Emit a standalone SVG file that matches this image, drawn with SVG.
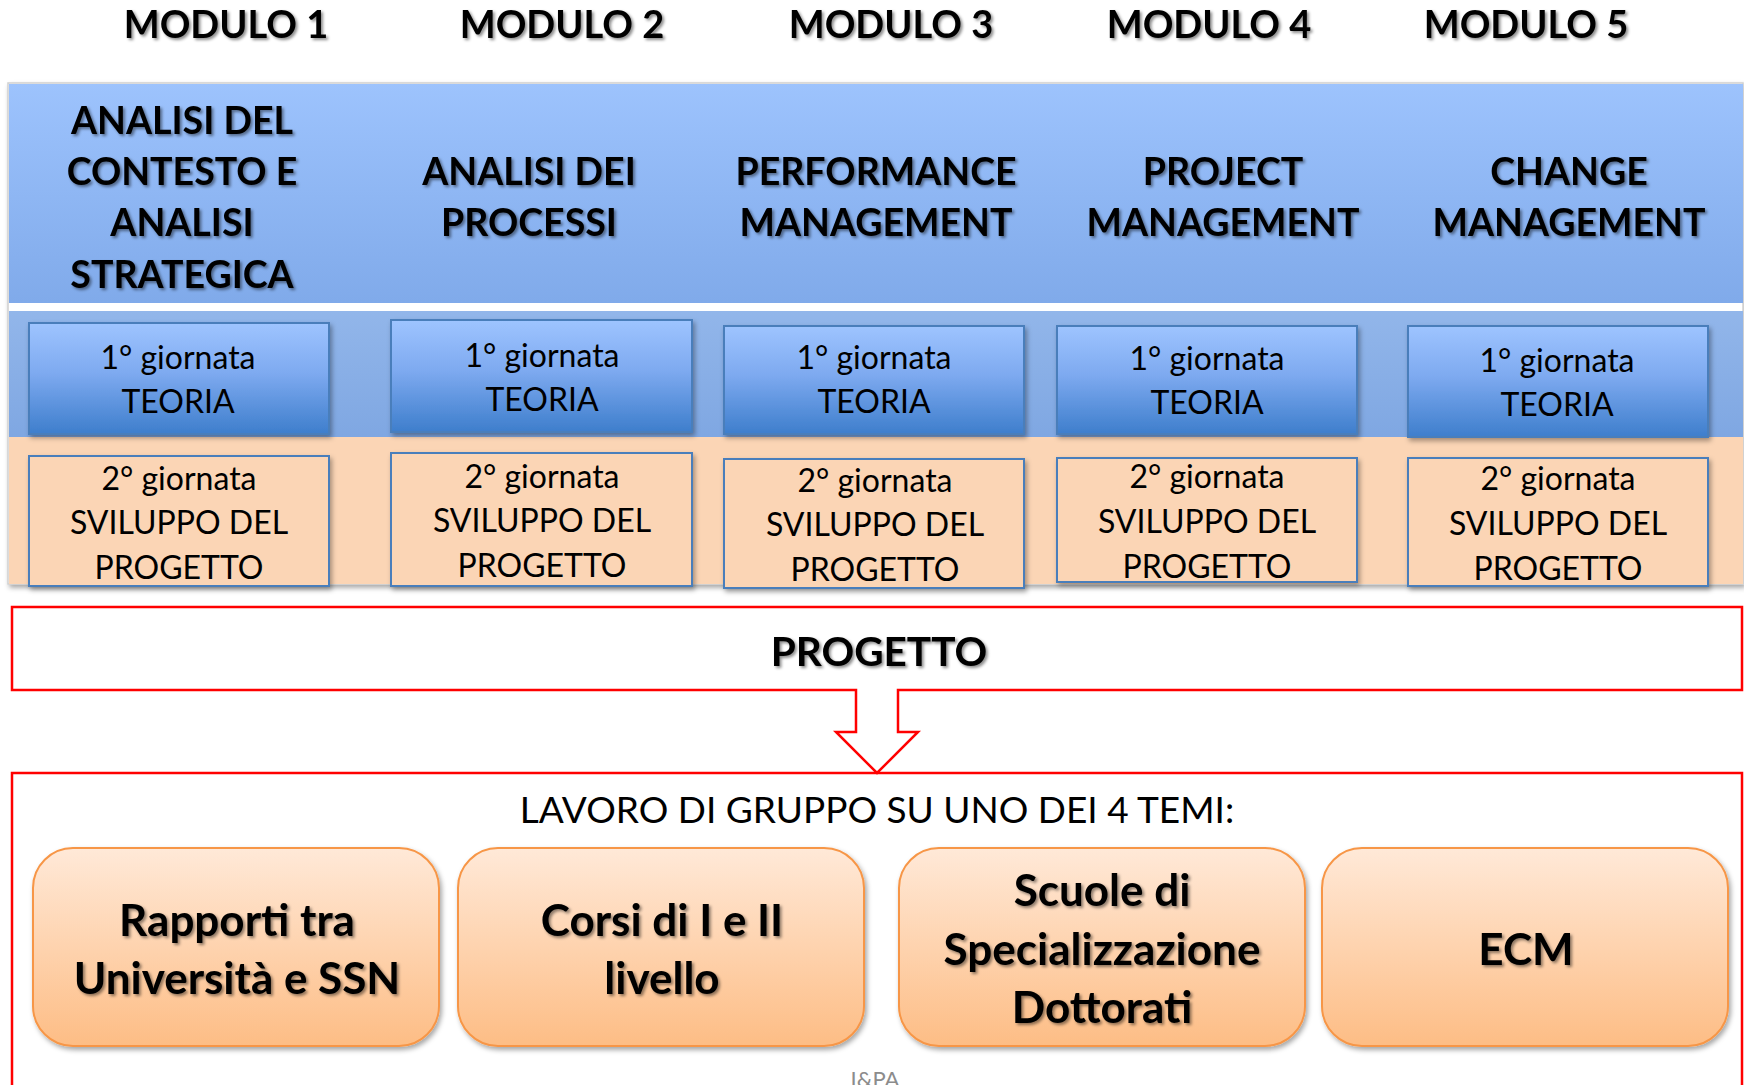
<svg xmlns="http://www.w3.org/2000/svg" width="1744" height="1085" viewBox="0 0 1744 1085">
<defs>
<linearGradient id="gHead" x1="0" y1="0" x2="0" y2="1"><stop offset="0" stop-color="#9DC3FD"/><stop offset="1" stop-color="#80AAEA"/></linearGradient>
<linearGradient id="gRow" x1="0" y1="0" x2="0" y2="1"><stop offset="0" stop-color="#92B6EA"/><stop offset="1" stop-color="#7FA7E2"/></linearGradient>
<linearGradient id="gTeo" x1="0" y1="0" x2="0" y2="1"><stop offset="0" stop-color="#9EC4FF"/><stop offset="0.45" stop-color="#7EAAF0"/><stop offset="1" stop-color="#3E7ECC"/></linearGradient>
<linearGradient id="gOr" x1="0" y1="0" x2="0" y2="1"><stop offset="0" stop-color="#FFE9D8"/><stop offset="1" stop-color="#FDBD85"/></linearGradient>
<filter id="ts" x="-10%" y="-30%" width="120%" height="160%"><feDropShadow dx="2" dy="2" stdDeviation="1.5" flood-color="#000" flood-opacity="0.45"/></filter>
<filter id="bs" x="-5%" y="-10%" width="110%" height="125%"><feDropShadow dx="2" dy="3" stdDeviation="2.5" flood-color="#000" flood-opacity="0.35"/></filter>
</defs>
<style>
.tb{font-family:Lato,"Open Sans","Liberation Sans",sans-serif;font-weight:bold;fill:#000;text-anchor:middle}
.tr{font-family:Lato,"Open Sans","Liberation Sans",sans-serif;font-weight:normal;fill:#000;text-anchor:middle}
.mod{font-size:38px}
.hd{font-size:37.5px}
.day{font-size:32px}
.teo{fill:url(#gTeo);stroke:#4A7EBB;stroke-width:2}
.svi{fill:#FBD5B5;stroke:#4A7EBB;stroke-width:2}
.or{fill:url(#gOr);stroke:#F79646;stroke-width:2}
.red{fill:#fff;stroke:#FF0000;stroke-width:2.5}
.big{font-size:44px}
</style>
<rect width="1744" height="1085" fill="#fff"/>

<g id="titles" class="tb mod" filter="url(#ts)">
<text x="226" y="38">MODULO 1</text>
<text x="562" y="38">MODULO 2</text>
<text x="891" y="38">MODULO 3</text>
<text x="1209" y="38">MODULO 4</text>
<text x="1526" y="38">MODULO 5</text>
</g>

<g id="band" filter="url(#bs)">
<rect x="8" y="83" width="1735" height="501" fill="#fff" stroke="#D0D0D0" stroke-width="1.5"/>
<rect x="9" y="84" width="1734" height="219" fill="url(#gHead)"/>
<rect x="9" y="311" width="1734" height="126" fill="url(#gRow)"/>
<rect x="9" y="437" width="1734" height="147" fill="#FBD5B5"/>
</g>

<g id="headers" class="tb hd" filter="url(#ts)">
<text x="182" y="134">ANALISI DEL</text>
<text x="182" y="185">CONTESTO E</text>
<text x="182" y="236">ANALISI</text>
<text x="182" y="288">STRATEGICA</text>
<text x="529" y="185">ANALISI DEI</text>
<text x="529" y="236">PROCESSI</text>
<text x="876" y="185">PERFORMANCE</text>
<text x="876" y="236">MANAGEMENT</text>
<text x="1223" y="185">PROJECT</text>
<text x="1223" y="236">MANAGEMENT</text>
<text x="1569" y="185">CHANGE</text>
<text x="1569" y="236">MANAGEMENT</text>
</g>

<g id="teoria1"><rect class="teo" x="29" y="323" width="300" height="111" filter="url(#bs)"/><text class="tr day" x="178" y="369">1° giornata</text><text class="tr day" x="178" y="413">TEORIA</text></g>
<g id="teoria2"><rect class="teo" x="391" y="320" width="301" height="112" filter="url(#bs)"/><text class="tr day" x="542" y="367">1° giornata</text><text class="tr day" x="542" y="411">TEORIA</text></g>
<g id="teoria3"><rect class="teo" x="724" y="326" width="300" height="108" filter="url(#bs)"/><text class="tr day" x="874" y="369">1° giornata</text><text class="tr day" x="874" y="413">TEORIA</text></g>
<g id="teoria4"><rect class="teo" x="1057" y="326" width="300" height="108" filter="url(#bs)"/><text class="tr day" x="1207" y="370">1° giornata</text><text class="tr day" x="1207" y="414">TEORIA</text></g>
<g id="teoria5"><rect class="teo" x="1408" y="326" width="300" height="111" filter="url(#bs)"/><text class="tr day" x="1557" y="372">1° giornata</text><text class="tr day" x="1557" y="416">TEORIA</text></g>

<g id="sviluppo1"><rect class="svi" x="29" y="456" width="300" height="130" filter="url(#bs)"/><text class="tr day" x="179" y="490">2° giornata</text><text class="tr day" x="179" y="534">SVILUPPO DEL</text><text class="tr day" x="179" y="579">PROGETTO</text></g>
<g id="sviluppo2"><rect class="svi" x="391" y="453" width="301" height="133" filter="url(#bs)"/><text class="tr day" x="542" y="488">2° giornata</text><text class="tr day" x="542" y="532">SVILUPPO DEL</text><text class="tr day" x="542" y="577">PROGETTO</text></g>
<g id="sviluppo3"><rect class="svi" x="724" y="459" width="300" height="129" filter="url(#bs)"/><text class="tr day" x="875" y="492">2° giornata</text><text class="tr day" x="875" y="536">SVILUPPO DEL</text><text class="tr day" x="875" y="581">PROGETTO</text></g>
<g id="sviluppo4"><rect class="svi" x="1057" y="458" width="300" height="124" filter="url(#bs)"/><text class="tr day" x="1207" y="488">2° giornata</text><text class="tr day" x="1207" y="533">SVILUPPO DEL</text><text class="tr day" x="1207" y="578">PROGETTO</text></g>
<g id="sviluppo5"><rect class="svi" x="1408" y="458" width="300" height="128" filter="url(#bs)"/><text class="tr day" x="1558" y="490">2° giornata</text><text class="tr day" x="1558" y="535">SVILUPPO DEL</text><text class="tr day" x="1558" y="580">PROGETTO</text></g>

<g id="lavoro">
<rect class="red" x="12" y="773" width="1730" height="330"/>
<text class="tr" style="font-size:37px" x="877" y="823">LAVORO DI GRUPPO SU UNO DEI 4 TEMI:</text>
</g>

<g id="connectors">
<path class="red" d="M856,690 H12 V607 H1742 V690 H898 V732 H918 L877,773 L836,732 H856 Z"/>
</g>
<g id="progetto">
<text class="tb" style="font-size:40.5px" x="879" y="666" filter="url(#ts)">PROGETTO</text>
</g>

<g id="tema1"><rect class="or" x="33" y="848" width="406" height="198" rx="40" filter="url(#bs)"/><g class="tb big" filter="url(#ts)"><text x="237" y="936">Rapporti tra</text><text x="237" y="994">Università e SSN</text></g></g>
<g id="tema2"><rect class="or" x="458" y="848" width="406" height="198" rx="40" filter="url(#bs)"/><g class="tb big" filter="url(#ts)"><text x="662" y="936">Corsi di I e II</text><text x="662" y="994">livello</text></g></g>
<g id="tema3"><rect class="or" x="899" y="848" width="406" height="198" rx="40" filter="url(#bs)"/><g class="tb big" filter="url(#ts)"><text x="1102" y="906">Scuole di</text><text x="1102" y="965">Specializzazione</text><text x="1102" y="1023">Dottorati</text></g></g>
<g id="tema4"><rect class="or" x="1322" y="848" width="406" height="198" rx="40" filter="url(#bs)"/><g class="tb big" filter="url(#ts)"><text x="1526" y="965">ECM</text></g></g>

<text class="tr" style="font-size:22px;fill:#8C8C8C" x="875" y="1087">I&amp;PA</text>
</svg>
